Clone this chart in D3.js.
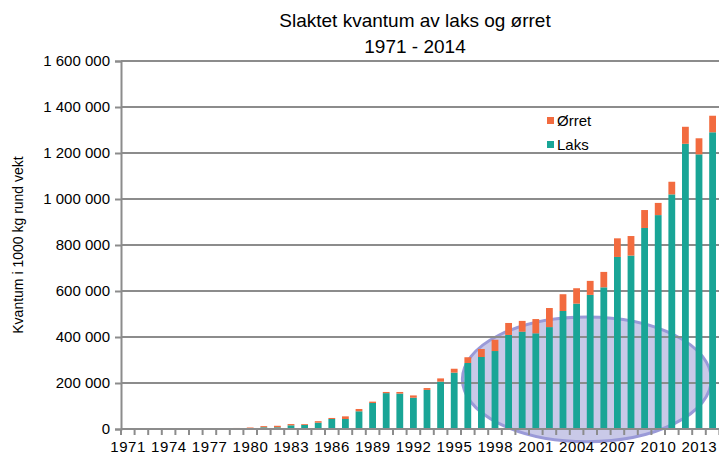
<!DOCTYPE html>
<html>
<head>
<meta charset="utf-8">
<script src="https://cdn.jsdelivr.net/npm/d3@7"></script>
<style>
  html, body { margin: 0; padding: 0; background: #ffffff; }
  svg { display: block; font-family: "Liberation Sans", Arial, sans-serif; }
</style>
</head>
<body>
<svg id="chart" width="719" height="455"></svg>
<script>
const years = d3.range(1971, 2015).map(String);
const laks = [100, 150, 200, 300, 500, 700, 1000, 1500, 2000, 3000,
  7500, 7500, 16000, 18000, 27500, 43500, 43500, 77000, 113000, 156000,
  154000, 136000, 170000, 206000, 245000, 287000, 313000, 339000, 409000, 423000,
  416000, 443000, 513000, 545000, 583000, 616000, 748000, 754000, 874000, 930000,
  1020000, 1240000, 1194000, 1290000];
const orret = [600, 900, 1100, 1300, 1500, 1800, 2000, 2200, 2500, 3500,
  5000, 6500, 5500, 3500, 6500, 4500, 11500, 10000, 6000, 5000,
  7000, 10000, 8000, 14000, 17000, 25000, 35000, 49000, 52000, 47000,
  62000, 83000, 73000, 67000, 61000, 67000, 81000, 85000, 78000, 53000,
  55000, 74000, 70000, 72000];
const yTicks = [0, 200000, 400000, 600000, 800000, 1000000, 1200000, 1400000, 1600000];
const xLabelYears = years.filter((d, i) => i % 3 === 0);
const seriesNames = ["Laks", "Ørret"];
const colors = {"Laks": "#19a596", "Ørret": "#f26b3f"};
const titleLines = ["Slaktet kvantum av laks og ørret", "1971 - 2014"];
const yTitle = "Kvantum i 1000 kg rund vekt";
// highlighted region (annotation ellipse) in data units: category-step units and values
const highlight = {stepFrom: 25.1, stepTo: 43.4, valueFrom: -55000, valueTo: 487000};

const svg = d3.select("#chart");
const margin = {left: 121, right: 0, top: 61, bottom: 26};
const W = 719.4, H = 455;

const x = d3.scaleBand().domain(years).range([margin.left, W]).paddingInner(0.5).paddingOuter(0.25);
const y = d3.scaleLinear().domain([0, 1600000]).range([429, margin.top]);
const step = x.step();
const fmt = v => d3.format(",")(v).replace(/,/g, " ");

// ellipse (drawn behind gridlines and bars)
const ex0 = margin.left + highlight.stepFrom * step, ex1 = margin.left + highlight.stepTo * step;
const ey0 = y(highlight.valueTo), ey1 = y(highlight.valueFrom);
svg.append("ellipse")
  .attr("cx", (ex0 + ex1) / 2).attr("cy", (ey0 + ey1) / 2)
  .attr("rx", (ex1 - ex0) / 2).attr("ry", (ey1 - ey0) / 2)
  .attr("fill", "#c9c9e8").attr("stroke", "#9a9ad8").attr("stroke-width", 3);

// gridlines
svg.append("g").selectAll("line").data(yTicks.slice(1)).join("line")
  .attr("x1", margin.left).attr("x2", W)
  .attr("y1", d => y(d)).attr("y2", d => y(d))
  .attr("stroke", "#8c8c8c").attr("stroke-width", 2);

// stacked bars
const rows = years.map((yr, i) => ({year: yr, "Laks": laks[i], "Ørret": orret[i]}));
const stacked = d3.stack().keys(seriesNames)(rows);
svg.append("g").selectAll("g").data(stacked).join("g")
  .attr("fill", d => colors[d.key])
  .selectAll("rect").data(d => d).join("rect")
  .attr("x", d => x(d.data.year))
  .attr("width", x.bandwidth())
  .attr("y", d => y(d[1]))
  .attr("height", d => Math.max(0, y(d[0]) - y(d[1])));

// y axis
const yAxis = d3.axisLeft(y).tickValues(yTicks).tickFormat(fmt).tickSize(6).tickPadding(5);
const gy = svg.append("g").attr("transform", `translate(${margin.left},0)`).call(yAxis);
gy.select(".domain").attr("stroke", "#8c8c8c").attr("stroke-width", 2);
gy.selectAll(".tick line").attr("stroke", "#8c8c8c").attr("stroke-width", 2);
gy.selectAll(".tick text").attr("font-size", 15).attr("fill", "#000")
  .attr("font-family", "Liberation Sans, Arial, sans-serif");

// x axis
const gx = svg.append("g");
gx.append("line").attr("x1", margin.left).attr("x2", W).attr("y1", y(0)).attr("y2", y(0))
  .attr("stroke", "#8c8c8c").attr("stroke-width", 2);
const boundaries = years.map(yr => x(yr) - step * 0.25).concat([x(years[years.length - 1]) + step * 0.75]);
gx.selectAll("line.tk").data(boundaries).join("line").attr("class", "tk")
  .attr("x1", d => d).attr("x2", d => d).attr("y1", y(0)).attr("y2", y(0) + 6)
  .attr("stroke", "#8c8c8c").attr("stroke-width", 2);
gx.selectAll("text").data(xLabelYears).join("text")
  .attr("x", d => x(d) + x.bandwidth() / 2 + 0.3).attr("y", 452)
  .attr("text-anchor", "middle").attr("font-size", 15).attr("letter-spacing", "0.6").attr("fill", "#000")
  .text(d => d);

// titles
svg.append("g").selectAll("text").data(titleLines).join("text")
  .attr("x", 415).attr("y", (d, i) => 27 + i * 26)
  .attr("text-anchor", "middle").attr("font-size", 19)
  .attr("fill", "#000").text(d => d);

svg.append("text")
  .attr("transform", "translate(23,245) rotate(-90)")
  .attr("text-anchor", "middle").attr("font-size", 14).attr("fill", "#000")
  .text(yTitle);

// legend
const legendItems = ["Ørret", "Laks"];
const lg = svg.append("g").attr("transform", "translate(547,117)");
legendItems.forEach((k, i) => {
  lg.append("rect").attr("x", 0).attr("y", i * 24).attr("width", 7).attr("height", 7).attr("fill", colors[k]);
  lg.append("text").attr("x", 10).attr("y", i * 24 + 9).attr("font-size", 15).attr("fill", "#000").text(k);
});
</script>
</body>
</html>
